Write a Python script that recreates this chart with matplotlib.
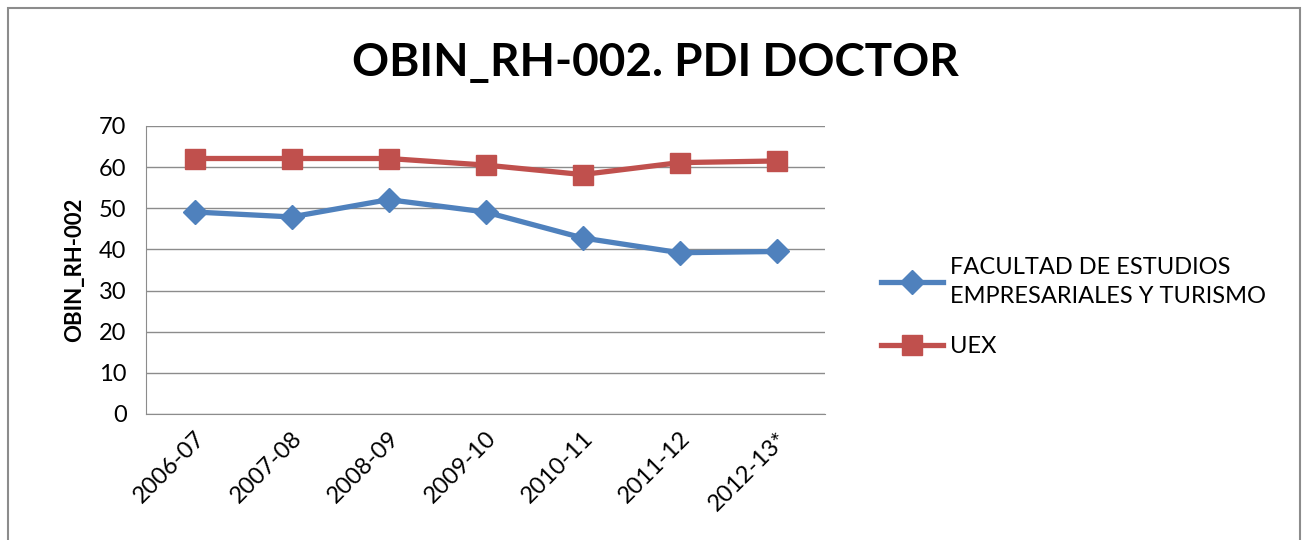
import matplotlib.pyplot as plt
from matplotlib.patches import Rectangle

plt.rcParams['font.family'] = ['Lato', 'DejaVu Sans']

# data
cursos = ['2006-07', '2007-08', '2008-09', '2009-10', '2010-11', '2011-12', '2012-13*']
facultad = [49.1, 47.9, 52.1, 49.1, 42.8, 39.2, 39.5]
uex = [62.1, 62.1, 62.1, 60.5, 58.2, 61.1, 61.5]
yticks = [0, 10, 20, 30, 40, 50, 60, 70]

W, H = 1303, 540
fig = plt.figure(figsize=(W / 100, H / 100), dpi=100)

# outer chart border
fig.patches.append(Rectangle((8 / W, -0.05), (1300 - 8) / W, 1.05 - 8 / H,
                             transform=fig.transFigure, fill=False,
                             edgecolor='#8c8c8c', linewidth=1.5))

ax = fig.add_axes([146 / W, 1 - 414 / H, (825 - 146) / W, (414 - 126) / H])
x = list(range(len(cursos)))
ax.plot(x, facultad, color='#4F81BD', lw=3.8, marker='D', ms=12,
        label='FACULTAD DE ESTUDIOS\nEMPRESARIALES Y TURISMO')
ax.plot(x, uex, color='#C0504D', lw=3.8, marker='s', ms=15, label='UEX')

ax.set_xlim(-0.5, len(cursos) - 0.5)
ax.set_ylim(0, 70)
ax.set_yticks(yticks)
ax.yaxis.grid(True, color='#8c8c8c', lw=1)
ax.set_axisbelow(True)
for s in ['top', 'right']:
    ax.spines[s].set_visible(False)
for s in ['left', 'bottom']:
    ax.spines[s].set_color('#8c8c8c')
ax.tick_params(axis='both', length=0, labelsize=17, pad=10)
ax.tick_params(axis='y', pad=14)
ax.set_xticks(x)
ax.set_xticklabels(cursos, rotation=45, ha='right', rotation_mode='anchor')
ax.set_ylabel('OBIN_RH-002', fontsize=16, fontweight='bold', labelpad=10)

fig.text(655 / W, 1 - 63 / H, 'OBIN_RH-002. PDI DOCTOR', ha='center', va='center',
         fontsize=33, fontweight='bold')

leg = ax.legend(loc='upper left', bbox_to_anchor=(860 / W, 1 - 236 / H),
                bbox_transform=fig.transFigure, frameon=False, fontsize=17,
                handlelength=2.6, labelspacing=1.25, handletextpad=0.3)
for t in leg.get_texts():
    t.set_linespacing(1.45)

fig.savefig('out.png', dpi=100)
